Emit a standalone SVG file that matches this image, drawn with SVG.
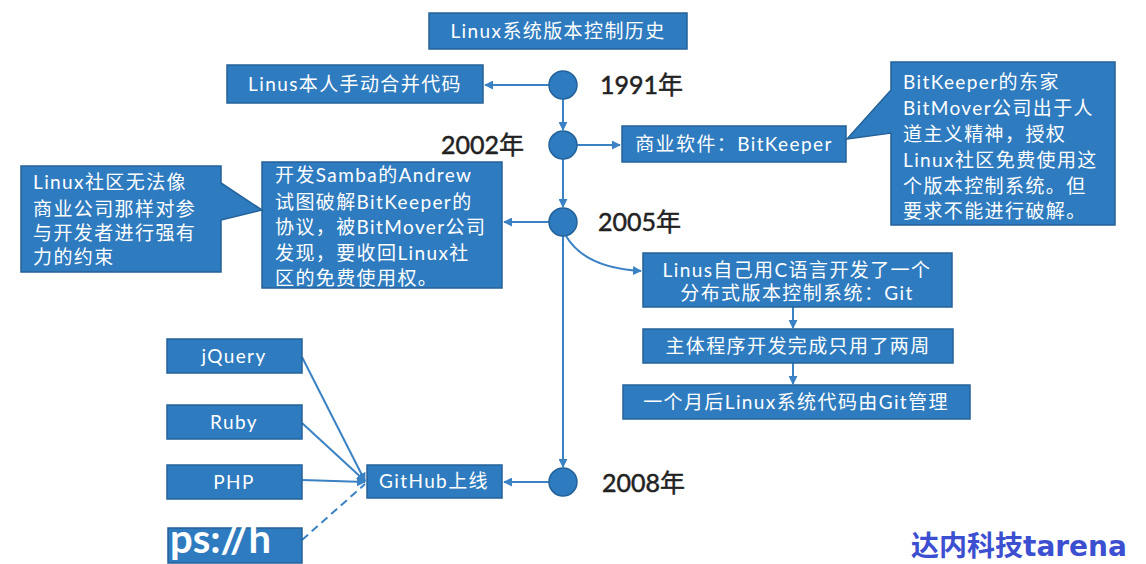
<svg xmlns="http://www.w3.org/2000/svg" width="1146" height="564" viewBox="0 0 1146 564">
<defs>
<style>
.box{fill:#2e7bbf;stroke:#24629a;stroke-width:1.5}
.t{fill:#fff;font-family:Lato,"Noto Sans CJK SC",sans-serif;font-size:19px;letter-spacing:1.4px}
.c{text-anchor:middle}
.yr{fill:#222;stroke:#222;stroke-width:0.5;font-family:Lato,"Noto Sans CJK SC",sans-serif;font-size:25px}
.ln{fill:none;stroke:#3a82c4;stroke-width:2}
.dot{fill:#2e7bbf;stroke:#24629a;stroke-width:1.5}
</style>
<marker id="ah" viewBox="0 0 10 10" refX="9" refY="5" markerWidth="9" markerHeight="9" markerUnits="userSpaceOnUse" orient="auto">
<path d="M0,0 L10,5 L0,10 z" fill="#3a82c4"/>
</marker>
</defs>
<rect width="1146" height="564" fill="#fff"/>

<g id="connectors">
<line class="ln" x1="563" y1="99" x2="563" y2="130" marker-end="url(#ah)"/>
<line class="ln" x1="563" y1="159" x2="563" y2="207" marker-end="url(#ah)"/>
<line class="ln" x1="563" y1="236" x2="563" y2="467" marker-end="url(#ah)"/>
<line class="ln" x1="549" y1="85" x2="485" y2="85" marker-end="url(#ah)"/>
<line class="ln" x1="577" y1="145" x2="620" y2="145" marker-end="url(#ah)"/>
<line class="ln" x1="549" y1="222" x2="504" y2="222" marker-end="url(#ah)"/>
<line class="ln" x1="549" y1="482" x2="504" y2="482" marker-end="url(#ah)"/>
<path class="ln" d="M566,236 Q585,268 641,271" marker-end="url(#ah)"/>
<line class="ln" x1="793" y1="307" x2="793" y2="328" marker-end="url(#ah)"/>
<line class="ln" x1="793" y1="363" x2="793" y2="384" marker-end="url(#ah)"/>
<line class="ln" x1="302" y1="357" x2="365" y2="481" marker-end="url(#ah)"/>
<line class="ln" x1="302" y1="423" x2="365" y2="481" marker-end="url(#ah)"/>
<line class="ln" x1="302" y1="480" x2="365" y2="482" marker-end="url(#ah)"/>
<line class="ln" x1="302" y1="540" x2="365" y2="484" stroke-dasharray="8 5"/>
</g>

<g id="title"><rect class="box" x="429" y="13" width="258" height="36"/><text class="t c" x="558" y="38" font-size="20">Linux系统版本控制历史</text></g>

<g id="y1991"><circle class="dot" cx="563" cy="85" r="14"/><text class="yr" x="600" y="94">1991年</text></g>
<g id="y2002"><circle class="dot" cx="563" cy="145" r="14"/><text class="yr" x="441" y="154">2002年</text></g>
<g id="y2005"><circle class="dot" cx="563" cy="222" r="14"/><text class="yr" x="598" y="231">2005年</text></g>
<g id="y2008"><circle class="dot" cx="563" cy="482" r="14"/><text class="yr" x="602" y="492">2008年</text></g>

<g id="manual"><rect class="box" x="227" y="65" width="256" height="38"/><text class="t c" x="355" y="91">Linus本人手动合并代码</text></g>

<g id="bitkeeper"><rect class="box" x="622" y="126" width="224" height="36"/><text class="t c" x="734" y="151">商业软件：BitKeeper</text></g>

<g id="bitmover-note">
<path class="box" d="M891,62 H1115 V225 H891 V133 L847,139 L891,90 Z"/>
<text class="t" x="903" y="89">BitKeeper的东家</text>
<text class="t" x="903" y="115">BitMover公司出于人</text>
<text class="t" x="903" y="141">道主义精神，授权</text>
<text class="t" x="903" y="167">Linux社区免费使用这</text>
<text class="t" x="903" y="193">个版本控制系统。但</text>
<text class="t" x="903" y="218">要求不能进行破解。</text>
</g>

<g id="samba">
<rect class="box" x="262" y="162" width="240" height="126"/>
<text class="t" x="275" y="182">开发Samba的Andrew</text>
<text class="t" x="275" y="209">试图破解BitKeeper的</text>
<text class="t" x="275" y="234">协议，被BitMover公司</text>
<text class="t" x="275" y="260">发现，要收回Linux社</text>
<text class="t" x="275" y="285">区的免费使用权。</text>
</g>

<g id="community-note">
<path class="box" d="M21,166 H221 V183 L262,210 L221,220 V272 H21 Z"/>
<text class="t" x="33" y="189">Linux社区无法像</text>
<text class="t" x="33" y="216">商业公司那样对参</text>
<text class="t" x="33" y="240">与开发者进行强有</text>
<text class="t" x="33" y="264">力的约束</text>
</g>

<g id="git"><rect class="box" x="643" y="253" width="309" height="54"/><text class="t c" x="797" y="277">Linus自己用C语言开发了一个</text><text class="t c" x="797" y="300">分布式版本控制系统：Git</text></g>
<g id="twoweeks"><rect class="box" x="643" y="329" width="310" height="34"/><text class="t c" x="798" y="353">主体程序开发完成只用了两周</text></g>
<g id="onemonth"><rect class="box" x="623" y="385" width="347" height="34"/><text class="t c" x="796" y="409">一个月后Linux系统代码由Git管理</text></g>

<g id="github"><rect class="box" x="367" y="465" width="135" height="33"/><text class="t c" x="434" y="488">GitHub上线</text></g>
<g id="jquery"><rect class="box" x="167" y="339" width="135" height="34"/><text class="t c" x="234" y="363">jQuery</text></g>
<g id="ruby"><rect class="box" x="167" y="405" width="135" height="34"/><text class="t c" x="234" y="429">Ruby</text></g>
<g id="php"><rect class="box" x="167" y="465" width="135" height="34"/><text class="t c" x="234" y="489">PHP</text></g>
<g id="hidden"><rect class="box" x="168" y="528" width="134" height="35"/></g>

<text x="170" y="553" fill="#fff" font-family="Lato,sans-serif" font-size="40" font-weight="bold">ps://h</text>
<text x="911" y="556" fill="#3b4fd0" font-family="'DejaVu Sans','Noto Sans CJK SC',sans-serif" font-size="28" font-weight="bold">达内科技tarena</text>
</svg>
